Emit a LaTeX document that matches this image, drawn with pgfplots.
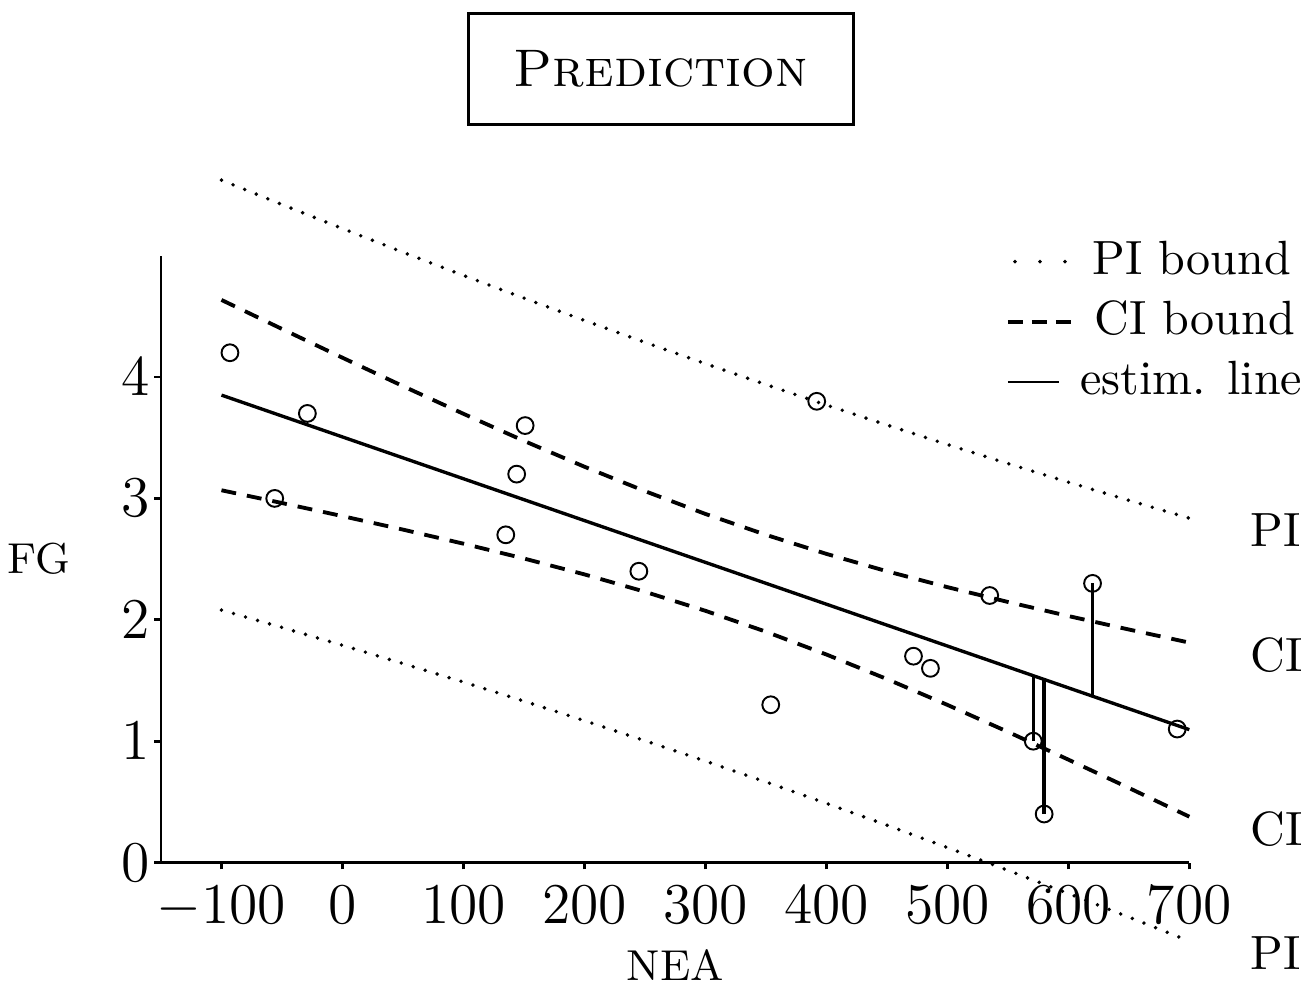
\documentclass[border=0pt]{standalone}
\usepackage{pgfplots}
\pgfplotsset{compat=1.18}
\pgfplotsset{
  pib/.style={black, line width=0.8pt, line cap=round, dash pattern=on 0pt off 2.6pt},
  cib/.style={black, line width=0.8pt, dash pattern=on 3.1pt off 2.3pt},
  est/.style={black, line width=0.7pt},
  pileg/.style={legend image code/.code={\draw[black, line width=0.8pt, line cap=round, dash pattern=on 0pt off 5.2pt] (-0.2pt,0pt) -- (10.8pt,0pt); \path (13.5pt,0pt);}},
  cileg/.style={legend image code/.code={\draw[black, line width=0.8pt, dash pattern=on 3.1pt off 1.9pt] (-1.7pt,0pt) -- (11.8pt,0pt); \path (13.5pt,0pt);}},
  estleg/.style={legend image code/.code={\draw[black, line width=0.4pt] (-1.7pt,0pt) -- (8.9pt,0pt); \path (13.5pt,0pt);}},
}
\tikzset{lbl/.style={anchor=west, inner sep=0pt, xshift=12.6pt, yshift=-2.5pt, font=\normalsize, black}}
\begin{document}
\begin{tikzpicture}
\begin{axis}[
  scale only axis, width=214pt, height=126.3pt,
  xmin=-150, xmax=700, ymin=0, ymax=5,
  axis lines=left, axis line style={-, line width=0.6pt},
  xtick={-100,0,...,700}, ytick={0,1,2,3,4},
  tick align=outside, major tick length=1.4pt,
  tick style={line width=0.6pt, black},
  tick label style={font=\large},
  yticklabel style={inner xsep=0.8pt},
  clip=false,
  xlabel={NEA}, ylabel={FG},
  xlabel style={inner ysep=0pt, font=\small, yshift=-0.8pt},
  every axis y label/.style={at={(axis description cs:0,0.5)}, anchor=east,
    inner xsep=0pt, xshift=-18.7pt, font=\small},
  title={\textsc{Prediction}},
  every axis title/.style={draw, line width=0.6pt, font=\fontsize{11}{13.5}\selectfont,
    at={(axis description cs:0.486,1.308)}, anchor=center,
    inner xsep=9.5pt, inner ysep=7.8pt, text height=7.5pt, text depth=0pt},
  legend style={draw=none, fill=none, inner sep=0pt, nodes={inner xsep=0.5pt},
    at={(axis description cs:1.113,1.041)}, anchor=north east, font=\normalsize},
  legend cell align=left,
]
% prediction interval, upper
\addplot[pib, pileg]
  coordinates {(-100,5.622) (-50,5.421) (0,5.223) (50,5.028) (100,4.837) (150,4.650)
  (200,4.466) (250,4.286) (300,4.110) (350,3.938) (400,3.769) (450,3.605)
  (500,3.444) (550,3.287) (600,3.134) (650,2.984) (700,2.837)};
\addlegendentry{\hspace{1.6pt}PI bound}
% confidence interval, upper
\addplot[cib, cileg]
  coordinates {(-100,4.635) (-50,4.396) (0,4.159) (50,3.925) (100,3.697) (150,3.474)
  (200,3.261) (250,3.060) (300,2.872) (350,2.700) (400,2.543) (450,2.400)
  (500,2.269) (550,2.147) (600,2.031) (650,1.920) (700,1.812)};
\addlegendentry{\hspace{2pt}CI bound}
% fitted line
\addplot[est, estleg] coordinates {(-100,3.851) (700,1.095)};
\addlegendentry{\hspace{-1pt}estim. line}
% confidence interval, lower
\addplot[cib, forget plot]
  coordinates {(-100,3.067) (-50,2.962) (0,2.854) (50,2.743) (100,2.627) (150,2.505)
  (200,2.374) (250,2.231) (300,2.074) (350,1.902) (400,1.714) (450,1.512)
  (500,1.299) (550,1.077) (600,0.848) (650,0.615) (700,0.378)};
% prediction interval, lower
\addplot[pib, forget plot]
  coordinates {(-100,2.080) (-50,1.937) (0,1.790) (50,1.640) (100,1.487) (150,1.330)
  (200,1.169) (250,1.004) (300,0.836) (350,0.664) (400,0.488) (450,0.308)
  (500,0.124) (550,-0.064) (600,-0.255) (650,-0.449) (700,-0.647)};
% residuals
\addplot[est, forget plot] coordinates {(571,1.0) (571,1.540)};
\addplot[est, forget plot] coordinates {(580,0.4) (580,1.509)};
\addplot[est, forget plot] coordinates {(620,2.3) (620,1.370)};
% observations
\addplot[only marks, mark=o, mark size=1.75pt, mark options={line width=0.4pt, black}, forget plot]
  coordinates {(-93,4.2) (-29,3.7) (-56,3.0) (151,3.6) (144,3.2) (135,2.7) (245,2.4)
  (392,3.8) (354,1.3) (472,1.7) (486,1.6) (535,2.2) (620,2.3) (571,1.0) (580,0.4) (690,1.1)};
% band names at the right ends of the bounds
\node[lbl] at (axis cs:700,2.837) {PI};
\node[lbl] at (axis cs:700,1.812) {CI};
\node[lbl] at (axis cs:700,0.378) {CI};
\node[lbl] at (axis cs:700,-0.647) {PI};
% page margins as in the reference
\path (rel axis cs:0,0) ++(-33.5pt,-25pt);
\path (rel axis cs:1,1) ++(24.7pt,53.2pt);
\end{axis}
\end{tikzpicture}
\end{document}
